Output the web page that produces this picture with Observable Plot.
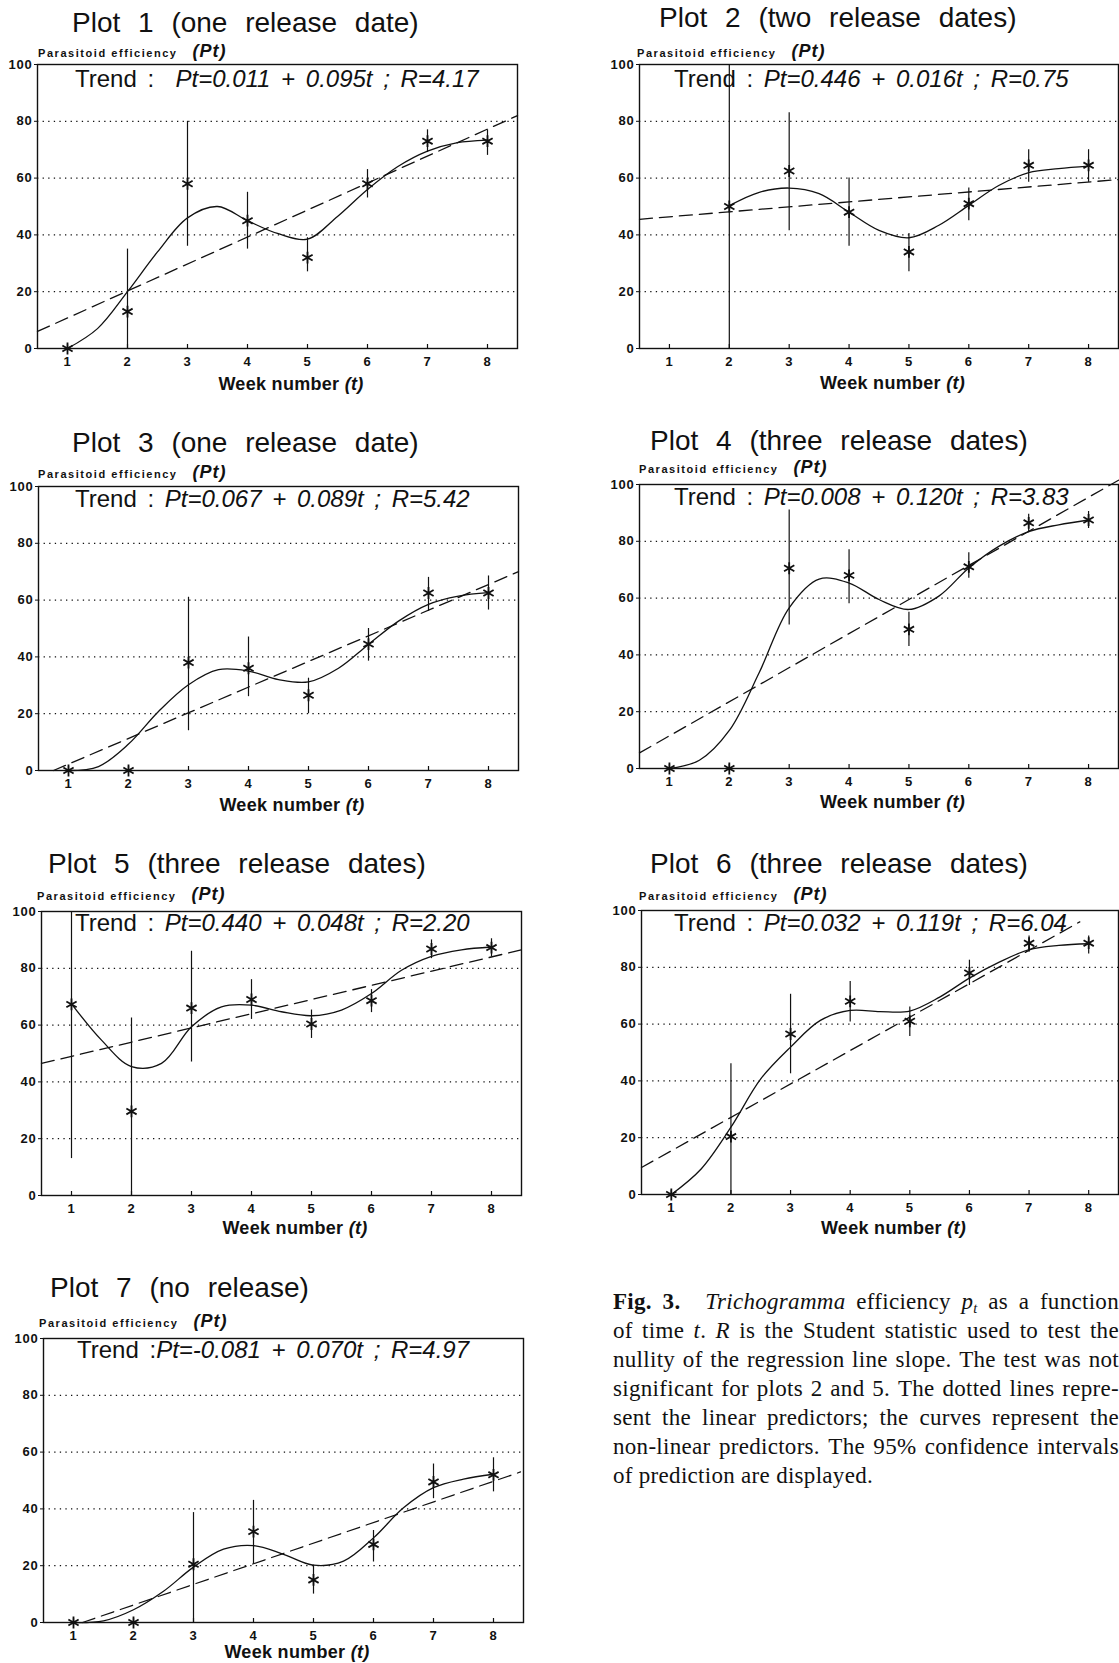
<!DOCTYPE html>
<html><head><meta charset="utf-8">
<script src="https://cdn.jsdelivr.net/npm/d3@7"></script>
<script src="https://cdn.jsdelivr.net/npm/@observablehq/plot@0.6"></script>
<style>
html,body{margin:0;padding:0;background:#fff;}
body{width:1119px;height:1663px;overflow:hidden;position:relative;}
.panel{position:absolute;}
.caption{position:absolute;left:613px;top:1287px;width:506px;font-family:"Liberation Serif","Times New Roman",serif;font-size:23px;letter-spacing:0.3px;color:#111;}
.caption .ln{display:flex;justify-content:space-between;height:29px;line-height:29px;white-space:nowrap;}
.caption .last{height:29px;line-height:29px;white-space:nowrap;}
.caption sub{font-size:0.62em;vertical-align:-0.25em;line-height:0;}
</style></head><body>
<script>
// ---------- data ----------
const weeks = [1, 2, 3, 4, 5, 6, 7, 8];
const curveWeeks = [1, 1.5, 2, 2.5, 3, 3.5, 4, 4.5, 5, 5.5, 6, 6.5, 7, 7.5, 8];
const yTicks = [0, 20, 40, 60, 80, 100];
const gridTicks = [20, 40, 60, 80];

const plotTitles = ["Plot 1 (one release date)", "Plot 2 (two release dates)", "Plot 3 (one release date)",
  "Plot 4 (three release dates)", "Plot 5 (three release dates)", "Plot 6 (three release dates)", "Plot 7 (no release)"];
const trendPrefixes = ["Trend :  ", "Trend : ", "Trend : ", "Trend : ", "Trend : ", "Trend : ", "Trend :"];
const trendFormulas = ["Pt=0.011 + 0.095t ; R=4.17", "Pt=0.446 + 0.016t ; R=0.75", "Pt=0.067 + 0.089t ; R=5.42",
  "Pt=0.008 + 0.120t ; R=3.83", "Pt=0.440 + 0.048t ; R=2.20", "Pt=0.032 + 0.119t ; R=6.04", "Pt=-0.081 + 0.070t ; R=4.97"];

// Plot 1
const p1Obs = [0, 13, 58, 45, 32, 58, 73, 73];
const p1Lo = [null, 0, 36, 35, 27, 53, 69, 68];
const p1Hi = [null, 35, 80, 55, 39, 63, 77, 77];
const p1Curve = [0, 7, 20, 34, 46, 50, 45, 40.5, 38.5, 46.5, 56, 64, 69.5, 72.5, 73.4];
const p1TrendT = [0.5, 8.5];
const p1TrendY = [6, 82];
// Plot 2
const p2Obs = [null, 50, 62.5, 48, 34, 51, 64.5, 64.5];
const p2Lo = [null, 0, 41.5, 36, 27, 45, 58.5, 58.5];
const p2Hi = [null, 100, 83, 60, 40.5, 56.5, 70, 70];
const p2Curve = [null, null, 50.3, 55, 56.5, 54.5, 48, 41.6, 39, 43.4, 50.4, 57.4, 61.9, 63.3, 64.2];
const p2TrendT = [0.5, 8.5];
const p2TrendY = [45.5, 59.5];
// Plot 3
const p3Obs = [0, 0, 38, 36, 26.5, 44.5, 62.5, 62.5];
const p3Lo = [null, null, 14, 26, 20, 38.5, 56, 56.5];
const p3Hi = [null, null, 61, 47, 32.5, 50, 68, 68.5];
const p3Curve = [0, 1.4, 9.3, 20.8, 30.2, 35.5, 35, 32, 31.2, 36, 44.4, 52.6, 58.5, 61.4, 62.6];
const p3TrendT = [0.75, 8.5];
const p3TrendY = [0, 70];
// Plot 4
const p4Obs = [0, 0, 70.5, 68, 49, 71, 86.5, 87.5];
const p4Lo = [null, null, 50.5, 58, 43, 67, 83, 84.5];
const p4Hi = [null, null, 91, 77, 55, 76, 89.5, 90.5];
const p4Curve = [0, 2.9, 13.4, 33.8, 56.6, 66.7, 65.3, 59.5, 56, 60.7, 70.6, 78.2, 83.4, 85.8, 87.5];
const p4TrendT = [0.5, 8.5];
const p4TrendY = [5.5, 101.5];
// Plot 5
const p5Obs = [67.3, 29.6, 66, 69, 60.4, 68.6, 86.8, 87.3];
const p5Lo = [13, 0, 47, 62, 55.3, 64.4, 83.4, 84];
const p5Hi = [100, 62.5, 86, 76, 65.3, 72.5, 90, 90.4];
const p5Curve = [67.5, 54.7, 45.4, 46.5, 59.4, 66.4, 67, 64.7, 63.3, 65.3, 71.1, 79.3, 84.2, 86.5, 87.5];
const p5TrendT = [0.5, 8.5];
const p5TrendY = [46.5, 86.5];
// Plot 6
const p6Obs = [0, 20.4, 56.5, 68, 61, 78, 88.5, 88.5];
const p6Lo = [null, 0, 42.5, 60.7, 55.6, 73.6, 85.3, 84.7];
const p6Hi = [null, 46, 70.5, 75, 66, 82.5, 91, 91];
const p6Curve = [0, 9, 23.7, 40.7, 51.9, 61.3, 64.8, 64.4, 64.6, 69.5, 76.2, 81.8, 86.2, 87.7, 88.3];
const p6TrendT = [0.5, 7.85];
const p6TrendY = [9.5, 96];
// Plot 7
const p7Obs = [0, 0, 20.5, 32, 15, 27.5, 49.5, 52];
const p7Lo = [null, null, 0, 20.5, 10, 21.3, 43.6, 46];
const p7Hi = [null, null, 38.7, 43, 20.2, 32.4, 55.8, 58];
const p7Curve = [0, 0.6, 4.5, 11, 19.5, 25.8, 27.1, 24, 20.2, 21.6, 29.8, 40.4, 47.5, 50.5, 52.2];
const p7TrendT = [1.15, 8.45];
const p7TrendY = [0, 53];

const series = [
  [p1Obs, p1Lo, p1Hi, p1Curve, p1TrendT, p1TrendY],
  [p2Obs, p2Lo, p2Hi, p2Curve, p2TrendT, p2TrendY],
  [p3Obs, p3Lo, p3Hi, p3Curve, p3TrendT, p3TrendY],
  [p4Obs, p4Lo, p4Hi, p4Curve, p4TrendT, p4TrendY],
  [p5Obs, p5Lo, p5Hi, p5Curve, p5TrendT, p5TrendY],
  [p6Obs, p6Lo, p6Hi, p6Curve, p6TrendT, p6TrendY],
  [p7Obs, p7Lo, p7Hi, p7Curve, p7TrendT, p7TrendY]
];

// ---------- layout (page positions, px) ----------
const layout = [
  {fx: 37,  fy: 64,   w: 480, tDx: 35, tUp: 32, yDx: 1,  yUp: 7,  trDx: 38, trDn: 23, xDn: 42},
  {fx: 639, fy: 64,   w: 479, tDx: 20, tUp: 37, yDx: -2, yUp: 7,  trDx: 35, trDn: 23, xDn: 41},
  {fx: 38,  fy: 486,  w: 480, tDx: 34, tUp: 34, yDx: 0,  yUp: 8,  trDx: 37, trDn: 21, xDn: 41},
  {fx: 639, fy: 484,  w: 479, tDx: 11, tUp: 34, yDx: 0,  yUp: 11, trDx: 35, trDn: 21, xDn: 40},
  {fx: 41,  fy: 911,  w: 480, tDx: 7,  tUp: 38, yDx: -4, yUp: 11, trDx: 34, trDn: 20, xDn: 39},
  {fx: 641, fy: 910,  w: 477, tDx: 9,  tUp: 37, yDx: -2, yUp: 10, trDx: 33, trDn: 21, xDn: 40},
  {fx: 43,  fy: 1338, w: 480, tDx: 7,  tUp: 41, yDx: -4, yUp: 11, trDx: 34, trDn: 20, xDn: 36}
];

const INK = "#111";
const SANS = "'Liberation Sans', Arial, Helvetica, sans-serif";

function drawPanel(k) {
  const [obsV, loV, hiV, curveV, trT, trY] = series[k];
  const L = layout[k];
  const ml = 36, mr = 1, mt = 60, mb = 50, fh = 284;
  const obs = weeks.map((w, i) => ({week: w, v: obsV[i], lo: loV[i], hi: hiV[i]})).filter(o => o.v != null);
  const ci = obs.filter(o => o.lo != null && o.hi != null);
  const curve = curveWeeks.map((w, i) => ({week: w, v: curveV[i]})).filter(c => c.v != null);
  const trend = trT.map((t, i) => ({week: t, v: trY[i]}));

  const svg = Plot.plot({
    width: ml + L.w + mr,
    height: mt + fh + mb,
    marginLeft: ml, marginRight: mr, marginTop: mt, marginBottom: mb,
    x: {domain: [0.5, 8.5]},
    y: {domain: [0, 100]},
    style: {fontFamily: SANS, fontSize: "13px", fontWeight: "bold", color: INK, background: "transparent", overflow: "visible", letterSpacing: "0.8px"},
    marks: [
      Plot.gridY(gridTicks, {stroke: INK, strokeOpacity: 1, strokeWidth: 1.3, strokeDasharray: "1.3,4.3"}),
      Plot.frame({stroke: INK, strokeWidth: 1.4}),
      Plot.axisY(yTicks, {tickSize: 3, tickPadding: 2, label: null, stroke: INK}),
      Plot.axisX(weeks, {tickSize: 0, tickPadding: 8, label: null}),
      Plot.tickX(weeks, {x: d => d, insetTop: fh - 4, stroke: INK, strokeWidth: 1.2}),
      Plot.line(trend, {x: "week", y: "v", stroke: INK, strokeWidth: 1.3, strokeDasharray: "13,7"}),
      Plot.line(curve, {x: "week", y: "v", curve: "catmull-rom", stroke: INK, strokeWidth: 1.3}),
      Plot.ruleX(ci, {x: "week", y1: "lo", y2: "hi", stroke: INK, strokeWidth: 1.2}),
      Plot.dot(obs, {x: "week", y: "v", symbol: "asterisk", r: 5.6, stroke: INK, strokeWidth: 1.8})
    ]
  });

  const s = d3.select(svg);
  // panel title
  s.append("text")
    .attr("x", ml + L.tDx).attr("y", mt - L.tUp).attr("fill", INK).attr("text-anchor", "start")
    .attr("style", `font: 400 28px ${SANS}; word-spacing: 10px; letter-spacing: 0px;`)
    .text(plotTitles[k]);
  // y label
  const yl = s.append("text").attr("x", ml + L.yDx).attr("y", mt - L.yUp).attr("fill", INK).attr("text-anchor", "start")
    .attr("style", `font: 700 11px ${SANS}; letter-spacing: 1.55px;`);
  yl.append("tspan").text("Parasitoid efficiency");
  yl.append("tspan").attr("dx", 15).attr("style", `font: italic 700 18px ${SANS}; letter-spacing: 1px;`).text("(Pt)");
  // trend label
  const tr = s.append("text").attr("x", ml + L.trDx).attr("y", mt + L.trDn).attr("fill", INK).attr("text-anchor", "start")
    .attr("style", `font: 400 24px ${SANS}; word-spacing: 4px; letter-spacing: 0px;`);
  tr.append("tspan").text(trendPrefixes[k]);
  tr.append("tspan").attr("style", "font-style: italic;").text(trendFormulas[k]);
  // x label
  const xl = s.append("text").attr("x", ml + L.w / 2 + 14).attr("y", mt + fh + L.xDn).attr("fill", INK)
    .attr("text-anchor", "middle")
    .attr("style", `font: 700 18px ${SANS}; letter-spacing: 0.3px;`);
  xl.append("tspan").text("Week number ");
  xl.append("tspan").attr("style", "font-style: italic;").text("(t)");

  const div = document.createElement("div");
  div.className = "panel";
  div.style.left = (L.fx - ml) + "px";
  div.style.top = (L.fy - mt) + "px";
  div.appendChild(svg);
  document.body.appendChild(div);
}

for (let k = 0; k < series.length; k++) drawPanel(k);

// ---------- caption ----------
const captionLines = [
  ["<b>Fig.</b>", "<b style='margin-right:14px'>3.</b>", "<i>Trichogramma</i>", "efficiency", "<i>p<sub>t</sub></i>", "as", "a", "function"],
  ["of", "time", "<i>t</i>.", "<i>R</i>", "is", "the", "Student", "statistic", "used", "to", "test", "the"],
  ["nullity", "of", "the", "regression", "line", "slope.", "The", "test", "was", "not"],
  ["significant", "for", "plots", "2", "and", "5.", "The", "dotted", "lines", "repre-"],
  ["sent", "the", "linear", "predictors;", "the", "curves", "represent", "the"],
  ["non-linear", "predictors.", "The", "95%", "confidence", "intervals"]
];
const captionLast = "of prediction are displayed.";
const cap = document.createElement("div");
cap.className = "caption";
cap.innerHTML = captionLines.map(ws => `<div class="ln">${ws.map(w => `<span>${w}</span>`).join("")}</div>`).join("")
  + `<div class="last">${captionLast}</div>`;
document.body.appendChild(cap);
</script>
</body></html>
